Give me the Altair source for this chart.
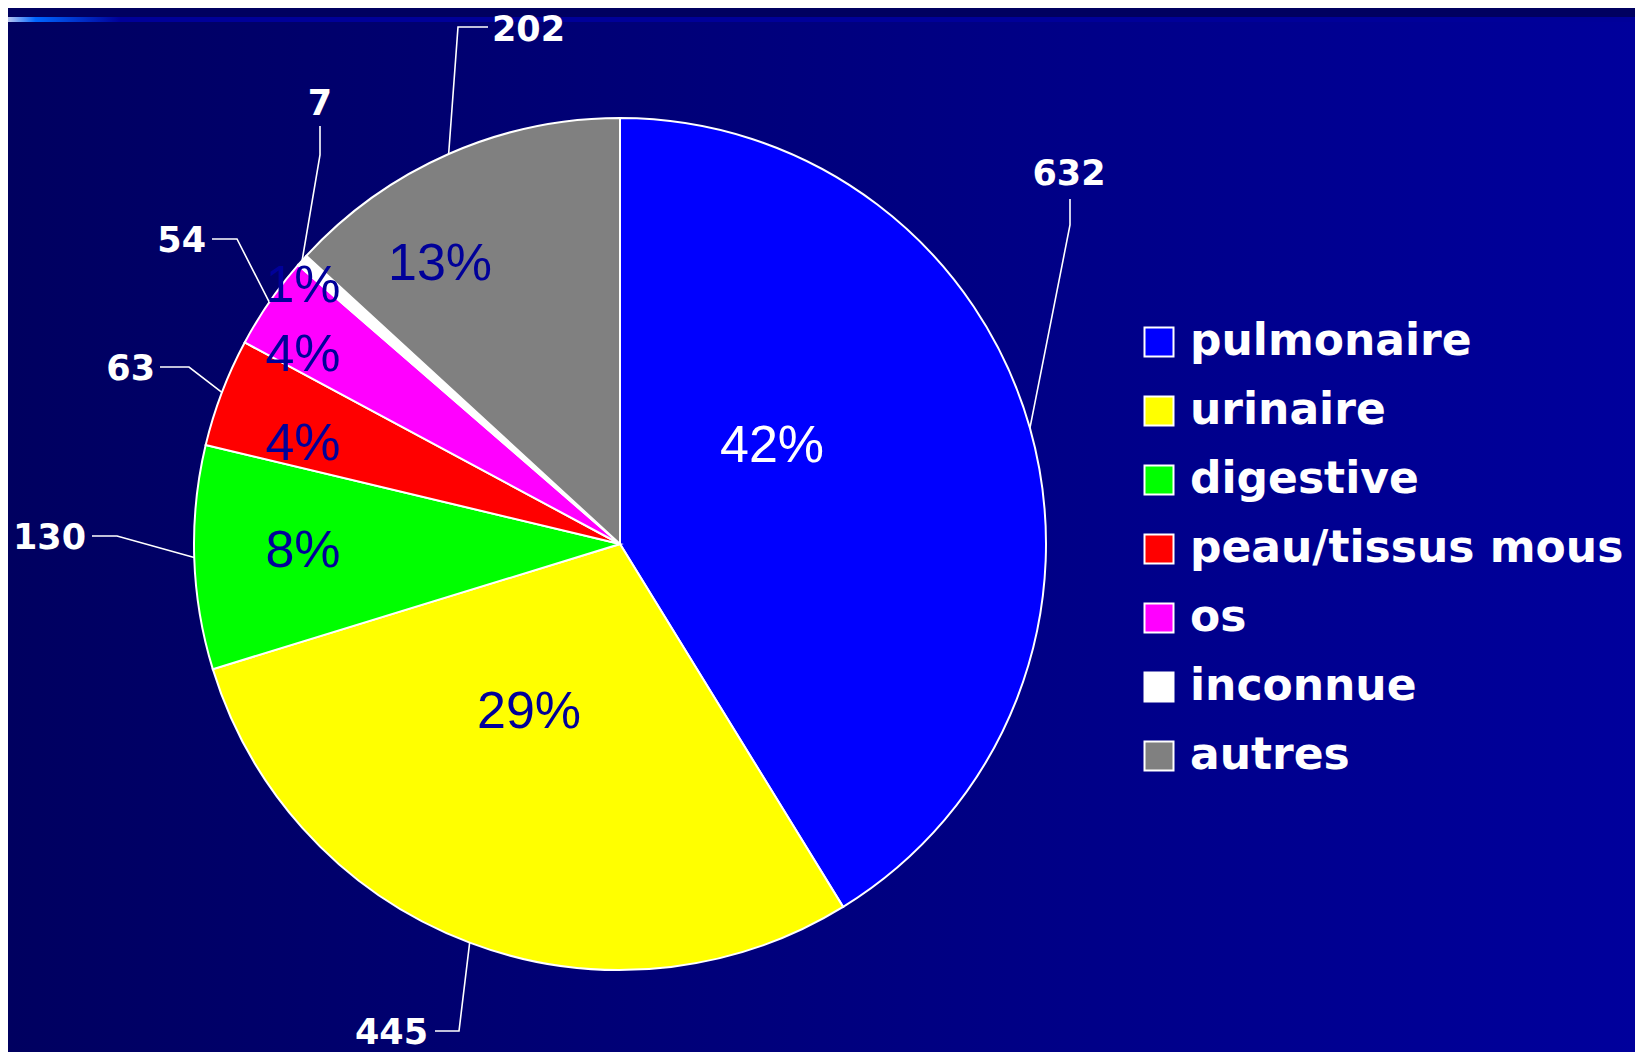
import altair as alt
import numpy as np
import pandas as pd

# ---------------- data ----------------
categories = ["pulmonaire", "urinaire", "digestive", "peau/tissus mous", "os", "inconnue", "autres"]
counts = [632, 445, 130, 63, 54, 7, 202]
pct_labels = ["42%", "29%", "8%", "4%", "4%", "1%", "13%"]
colors = ["#0000FF", "#FFFF00", "#00FF00", "#FF0000", "#FF00FF", "#FFFFFF", "#808080"]

# ---------------- layout (pixels) ----------------
W, H = 1627, 1044
CX, CY = 612, 536   # pie centre inside the plot area
R = 426             # pie radius

# label placement relative to the pie centre (annotation layout)
elbow_dx = [450, -161, -503, -431, -383, -300, -162]
elbow_dy = [-319, 487, -8, -177, -305, -389, -517]
end_dx = [450, -185, -528, -460, -408, -300, -132]
end_dy = [-345, 487, -8, -177, -305, -418, -517]
val_dx = [449, -192, -534, -465, -414, -300, -128]
val_dy = [-359, 500, 5, -164, -292, -429, -503]
val_align = ["center", "right", "right", "right", "right", "center", "left"]
pct_dx = [152, -91, -317, -317, -317, -317, -180]
pct_dy = [-82, 184, 23, -84, -173, -242, -264]

xs = alt.Scale(domain=[-CX, W - CX], nice=False, zero=False)
ys = alt.Scale(domain=[-CY, H - CY], nice=False, zero=False, reverse=True)

# ---------------- derived tables ----------------
total = float(sum(counts))
cum = np.cumsum(counts)
mid = (cum - np.array(counts) / 2.0) / total * 2 * np.pi

pie_df = pd.DataFrame({"cat": categories, "count": counts, "idx": list(range(len(categories)))})

line_rows = []
for i, c in enumerate(categories):
    pts = [
        (R * np.sin(mid[i]), -R * np.cos(mid[i])),
        (elbow_dx[i], elbow_dy[i]),
        (end_dx[i], end_dy[i]),
    ]
    for k, (px, py) in enumerate(pts):
        line_rows.append({"cat": c, "seq": k, "x": float(px), "y": float(py)})
line_df = pd.DataFrame(line_rows)

val_df = pd.DataFrame({"cat": categories, "label": [str(v) for v in counts],
                       "x": val_dx, "y": val_dy, "align": val_align})
pct_df = pd.DataFrame({"cat": categories, "label": pct_labels, "x": pct_dx, "y": pct_dy})

one = pd.DataFrame({"a": [0]})

# ---------------- background ----------------
bg = alt.Chart(one).mark_rect(
    color=alt.LinearGradient(
        gradient="linear",
        stops=[alt.GradientStop(color="#000060", offset=0),
               alt.GradientStop(color="#00009C", offset=1)],
        x1=0, x2=1, y1=0, y2=0,
    )
).encode(x=alt.value(0), x2=alt.value(W), y=alt.value(0), y2=alt.value(H))

top_band = alt.Chart(one).mark_rect(color="#000060").encode(
    x=alt.value(0), x2=alt.value(W), y=alt.value(0), y2=alt.value(14)
)

strip = alt.Chart(one).mark_rect(
    color=alt.LinearGradient(
        gradient="linear",
        stops=[alt.GradientStop(color="#B8C6F0", offset=0),
               alt.GradientStop(color="#0066FF", offset=0.017),
               alt.GradientStop(color="#000099", offset=0.069),
               alt.GradientStop(color="#000099", offset=1)],
        x1=0, x2=1, y1=0, y2=0,
    )
).encode(x=alt.value(0), x2=alt.value(W), y=alt.value(9), y2=alt.value(14))

# ---------------- pie ----------------
pie = alt.Chart(pie_df).mark_arc(radius=R, stroke="white", strokeWidth=2).encode(
    theta=alt.Theta("count:Q", stack=True),
    order=alt.Order("idx:Q"),
    color=alt.Color(
        "cat:N",
        sort=categories,
        scale=alt.Scale(domain=categories, range=colors),
        legend=alt.Legend(
            orient="none", legendX=1129, legendY=312, title=None,
            symbolType="square", symbolSize=841, symbolStrokeColor="white",
            symbolStrokeWidth=2, symbolOpacity=1,
            labelFont="DejaVu Sans", labelFontSize=44, labelFontWeight="bold",
            labelColor="white", labelOffset=9, rowPadding=25, padding=0,
            labelLimit=0,
        ),
    ),
    x=alt.XDatum(0, type="quantitative", scale=xs, axis=None),
    y=alt.YDatum(0, type="quantitative", scale=ys, axis=None),
)

lines = alt.Chart(line_df).mark_line(color="white", strokeWidth=1.6).encode(
    x=alt.X("x:Q", scale=xs, axis=None),
    y=alt.Y("y:Q", scale=ys, axis=None),
    detail="cat:N",
    order="seq:Q",
)

pct = alt.Chart(pct_df).mark_text(
    font="Liberation Sans", fontSize=52, align="center", baseline="alphabetic"
).encode(
    x=alt.X("x:Q", scale=xs, axis=None),
    y=alt.Y("y:Q", scale=ys, axis=None),
    text="label:N",
    color=alt.condition("datum.cat == 'pulmonaire'", alt.value("white"), alt.value("#000099")),
)

val_layers = []
for al in ["left", "center", "right"]:
    val_layers.append(
        alt.Chart(val_df).transform_filter(alt.datum.align == al).mark_text(
            font="DejaVu Sans", fontSize=35, fontWeight="bold", color="white",
            align=al, baseline="alphabetic"
        ).encode(
            x=alt.X("x:Q", scale=xs, axis=None),
            y=alt.Y("y:Q", scale=ys, axis=None),
            text="label:N",
        )
    )

chart = alt.layer(bg, top_band, strip, pie, lines, pct, *val_layers).properties(
    width=W, height=H, padding=0, autosize="none", background="#000060"
).configure_view(stroke=None)

chart.save("out.html", embed_options={"renderer": "svg", "actions": False})
